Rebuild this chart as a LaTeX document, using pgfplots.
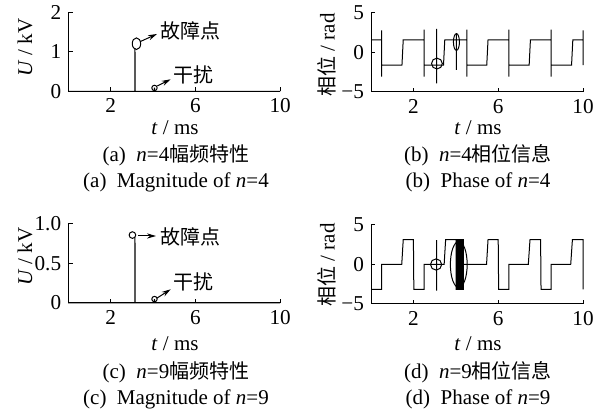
\documentclass[border=0pt]{standalone}
\usepackage{fontspec}
\setmainfont{Liberation Serif}
\newfontfamily\cjk{Noto Sans CJK SC}
\usepackage{pgfplots}
\pgfplotsset{compat=1.18}
\usetikzlibrary{arrows.meta}
\pgfplotsset{myax/.style={scale only axis, width=106pt, height=39.5pt,
  axis lines=left, axis line style={-, line width=0.5pt},
  tick align=inside, major tick length=2.2pt,
  xmin=0, xmax=10, xtick={2,6,10},
  tick style={line width=0.5pt, black},
  tick label style={font=\fontsize{10.6}{10.6}\selectfont},
  /pgf/number format/assume math mode=true, clip=false,
  every axis plot/.append style={line width=0.5pt, black}}}
\newcommand{\lbl}{\fontsize{10.5}{12}\selectfont}
\newcommand{\cj}{\cjk\fontsize{10}{12}\selectfont}
\begin{document}
\begin{tikzpicture}
\useasboundingbox (0,0) rectangle (302pt,-207.5pt);
% (a)
\begin{axis}[myax, at={(34.1pt,-45.75pt)}, anchor=south west, ymin=0, ymax=2, ytick={0,1,2}]
\addplot[sharp plot] coordinates {(0,0) (3.14,0) (3.15,1.1) (3.16,0) (4.06,0) (4.07,0.1) (4.08,0) (10,0)};
\draw[line width=0.5pt] (axis cs:3.22,1.21) ellipse [x radius=2.1pt, y radius=2.9pt];
\draw[line width=0.5pt] (axis cs:4.07,0.09) circle [radius=1.35pt];
\end{axis}
% (b)
\begin{axis}[myax, at={(185.5pt,-46pt)}, anchor=south west, ymin=-5, ymax=5, ytick={-5,0,5}, yticklabels={−5,0,5}]
\addplot[sharp plot] coordinates {(0,1.6) (0.5,1.6) (0.5,2.8) (0.5,-3.05) (0.5,-1.6) (1.46,-1.6) (1.52,1.6) (2.5,1.6) (2.5,2.9) (2.5,-3.05) (2.5,-1.6) (3.1,-1.6) (3.1,3.0) (3.1,-3.9) (3.1,-1.6) (3.42,-1.6) (3.48,1.6) (4.03,1.6) (4.03,2.4) (4.03,-2.2) (4.03,1.6) (4.52,1.6) (4.52,2.9) (4.52,-3.05) (4.52,-1.6) (5.46,-1.6) (5.52,1.6) (6.5,1.6) (6.5,2.9) (6.5,-3.05) (6.5,-1.6) (7.46,-1.6) (7.52,1.6) (8.5,1.6) (8.5,2.9) (8.5,-3.05) (8.5,-1.6) (9.46,-1.6) (9.52,1.6) (10,1.6) (10,2.8) (10,-1.6)};
\draw[line width=0.5pt] (axis cs:3.11,-1.4) circle [radius=2.7pt];
\draw[line width=0.5pt] (axis cs:4.03,1.33) ellipse [x radius=1.5pt, y radius=4.2pt];
\end{axis}
% (c)
\begin{axis}[myax, at={(34.1pt,-151.5pt)}, anchor=south west, ymin=0, ymax=1, ytick={0,0.5,1}, yticklabels={0,0.5,1.0}]
\addplot[sharp plot] coordinates {(0,0) (3.14,0) (3.15,0.83) (3.16,0) (4.06,0) (4.07,0.05) (4.08,0) (10,0)};
\draw[line width=0.5pt] (axis cs:3.03,0.86) circle [radius=1.65pt];
\draw[line width=0.5pt] (axis cs:4.07,0.05) circle [radius=1.35pt];
\end{axis}
% (d)
\begin{axis}[myax, at={(185.5pt,-152pt)}, anchor=south west, ymin=-5, ymax=5, ytick={-5,0,5}, yticklabels={−5,0,5}]
\addplot[sharp plot] coordinates {(0,-3.14) (0.5,-3.14) (0.5,0) (1.45,0) (1.52,3.14) (2.0,3.14) (2.02,-3.14) (2.5,-3.14) (2.5,0) (3.1,0) (3.1,3.1) (3.1,-3.3) (3.1,0) (3.45,0) (3.52,3.14) (4.02,3.14) (4.02,-3.14) (4.36,-3.14) (4.36,0) (5.45,0) (5.52,3.14) (6.0,3.14) (6.02,-3.14) (6.5,-3.14) (6.5,0) (7.42,0) (7.5,3.14) (8.0,3.14) (8.02,-3.14) (8.5,-3.14) (8.5,0) (9.42,0) (9.5,3.14) (10,3.14) (10,-3.14)};
\addplot[fill=black, draw=black] coordinates {(4.02,-3.14) (4.36,-3.14) (4.36,3.14) (4.02,3.14)} -- cycle;
\draw[line width=0.5pt] (axis cs:3.07,0) circle [radius=2.8pt];
\draw[line width=0.5pt] (axis cs:4.14,0) ellipse [x radius=4.2pt, y radius=11.5pt];
\end{axis}
% arrows and annotations
\draw[line width=0.5pt, -{Stealth[length=4.5pt, width=2.6pt]}] (70pt,-20.85pt) -- (78.5pt,-17pt);
\draw[line width=0.5pt, -{Stealth[length=4.5pt, width=2.6pt]}] (78.65pt,-43pt) -- (85.35pt,-39.65pt);
\draw[line width=0.5pt, -{Stealth[length=4.5pt, width=2.6pt]}] (69.15pt,-118pt) -- (78pt,-118pt);
\draw[line width=0.5pt, -{Stealth[length=4.5pt, width=2.6pt]}] (78.35pt,-149.15pt) -- (85.35pt,-144.65pt);
\node[inner sep=0pt] at (95pt,-15.5pt) {\cj 故障点};
\node[inner sep=0pt] at (96.75pt,-37.5pt) {\cj 干扰};
\node[inner sep=0pt] at (95pt,-118.3pt) {\cj 故障点};
\node[inner sep=0pt] at (96.75pt,-140.85pt) {\cj 干扰};
% axis labels
\node[rotate=90, inner sep=0pt] at (12.5pt,-23.75pt) {\lbl\textit{U} / kV};
\node[rotate=90, inner sep=0pt] at (12.5pt,-128.25pt) {\lbl\textit{U} / kV};
\node[rotate=90, inner sep=0pt] at (163.5pt,-27.5pt) {{\cj 相位}\lbl{} / rad};
\node[rotate=90, inner sep=0pt] at (163.5pt,-132.5pt) {{\cj 相位}\lbl{} / rad};
\node[inner sep=0pt] at (87.5pt,-64pt) {\lbl\textit{t} / ms};
\node[inner sep=0pt] at (239pt,-64pt) {\lbl\textit{t} / ms};
\node[inner sep=0pt] at (87.5pt,-172pt) {\lbl\textit{t} / ms};
\node[inner sep=0pt] at (239pt,-172pt) {\lbl\textit{t} / ms};
% captions
\node[inner sep=0pt] at (88pt,-77.5pt) {\lbl (a)\ \ \textit{n}=4{\cj 幅频特性}};
\node[inner sep=0pt] at (88pt,-91pt) {\lbl (a)\ \ Magnitude of \textit{n}=4};
\node[inner sep=0pt] at (239pt,-77.5pt) {\lbl (b)\ \ \textit{n}=4{\cj 相位信息}};
\node[inner sep=0pt] at (239pt,-91pt) {\lbl (b)\ \ Phase of \textit{n}=4};
\node[inner sep=0pt] at (88pt,-186pt) {\lbl (c)\ \ \textit{n}=9{\cj 幅频特性}};
\node[inner sep=0pt] at (88pt,-199.5pt) {\lbl (c)\ \ Magnitude of \textit{n}=9};
\node[inner sep=0pt] at (239pt,-186pt) {\lbl (d)\ \ \textit{n}=9{\cj 相位信息}};
\node[inner sep=0pt] at (239pt,-199.5pt) {\lbl (d)\ \ Phase of \textit{n}=9};
\end{tikzpicture}
\end{document}
